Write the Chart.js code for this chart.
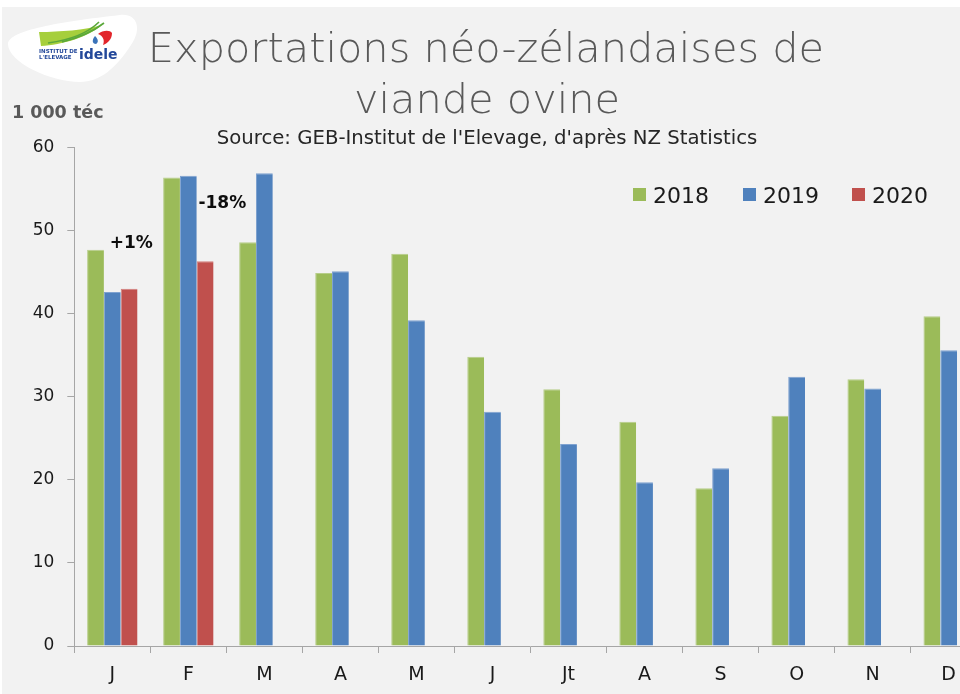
<!DOCTYPE html>
<html lang="fr">
<head>
<meta charset="utf-8">
<title>Exportations néo-zélandaises de viande ovine</title>
<script src="https://cdn.jsdelivr.net/npm/chart.js@4/dist/chart.umd.min.js"></script>
<style>
  html, body { margin: 0; padding: 0; background: #f2f2f2; overflow: hidden; }
  #frame { position: relative; width: 960px; height: 694px; overflow: hidden; background: #f2f2f2; }
  #topEdge { position: absolute; left: 0; top: 0; width: 960px; height: 7px; background: #ffffff; }
  #leftEdge { position: absolute; left: 0; top: 0; width: 2px; height: 694px; background: #ffffff; }
  #plot { position: absolute; left: 0; top: 0; width: 1000px; height: 694px; }
</style>
</head>
<body>
<div id="frame">
  <div id="topEdge"></div>
  <div id="leftEdge"></div>
  <div id="plot"><canvas id="chart"></canvas></div>
</div>
<script>
// Monthly New Zealand sheep meat exports, thousand tonnes carcass weight equivalent
const months = ['J', 'F', 'M', 'A', 'M', 'J', 'Jt', 'A', 'S', 'O', 'N', 'D'];
const seriesNames = ['2018', '2019', '2020'];
const exports2018 = [47.7, 56.4, 48.6, 44.9, 47.2, 34.8, 30.9, 27.0, 19.0, 27.7, 32.1, 39.7];
const exports2019 = [42.6, 56.6, 56.9, 45.1, 39.2, 28.2, 24.3, 19.7, 21.4, 32.4, 31.0, 35.6];
const exports2020 = [43.0, 46.3, null, null, null, null, null, null, null, null, null, null];
const yTicks = [0, 10, 20, 30, 40, 50, 60];

// Year-on-year change of 2020 against 2019, for the months available
const changeNotes = [0, 1].map(i => ({
  month: i,
  text: (exports2020[i] >= exports2019[i] ? '+' : '-') +
        Math.round(Math.abs(exports2020[i] / exports2019[i] - 1) * 100) + '%'
}));

const FONT = "'DejaVu Sans', 'Liberation Sans', sans-serif";
const colours = ['#9BBB59', '#4F81BD', '#C0504D'];
const edges = ['#b6cd88', '#7fa2d0', '#d37e7b'];

// Logo, titles, unit label, legend and change notes
const decor = {
  id: 'decor',
  afterDraw(chart) {
    const ctx = chart.ctx;
    const xs = chart.scales.x, ys = chart.scales.y;
    ctx.save();

    // logo card
    ctx.fillStyle = '#ffffff';
    ctx.beginPath();
    ctx.moveTo(8, 44);
    ctx.bezierCurveTo(9, 30, 60, 22, 120, 15);
    ctx.bezierCurveTo(138, 13, 142, 30, 131, 45);
    ctx.bezierCurveTo(116, 68, 100, 82, 80, 82);
    ctx.bezierCurveTo(50, 82, 8, 62, 8, 44);
    ctx.fill();

    // logo swoosh
    ctx.fillStyle = '#a6cf3c';
    ctx.beginPath();
    ctx.moveTo(39, 32);
    ctx.bezierCurveTo(60, 32, 85, 30, 102, 25);
    ctx.bezierCurveTo(88, 37, 62, 45, 41, 46);
    ctx.closePath();
    ctx.fill();
    ctx.strokeStyle = '#5aa83a';
    ctx.lineWidth = 1.6;
    ctx.beginPath();
    ctx.moveTo(48, 43);
    ctx.bezierCurveTo(70, 40, 88, 33, 99, 22);
    ctx.stroke();
    ctx.beginPath();
    ctx.moveTo(62, 42);
    ctx.bezierCurveTo(82, 37, 95, 30, 104, 23);
    ctx.stroke();
    ctx.fillStyle = '#e2252b';
    ctx.beginPath();
    ctx.moveTo(98, 34);
    ctx.bezierCurveTo(103, 30, 110, 30, 112, 33);
    ctx.bezierCurveTo(112, 39, 108, 43, 103, 45);
    ctx.bezierCurveTo(105, 40, 103, 36, 98, 34);
    ctx.fill();
    ctx.fillStyle = '#3b73b9';
    ctx.beginPath();
    ctx.moveTo(95, 36);
    ctx.bezierCurveTo(98, 39, 99, 42, 96, 44);
    ctx.bezierCurveTo(93, 44, 91, 41, 95, 36);
    ctx.fill();

    ctx.fillStyle = '#23489a';
    ctx.textAlign = 'left';
    ctx.textBaseline = 'alphabetic';
    ctx.font = "bold 5.5px " + FONT;
    ctx.fillText('INSTITUT DE', 39, 53);
    ctx.fillText("L'ELEVAGE", 39, 59);
    ctx.font = "bold 14px " + FONT;
    ctx.fillText('idele', 79, 59);

    // titles
    ctx.textAlign = 'center';
    ctx.fillStyle = '#595959';
    ctx.font = "200 41.5px " + FONT;
    ctx.fillText('Exportations néo-zélandaises de', 486, 62);
    ctx.fillText('viande ovine', 487, 113);
    ctx.fillStyle = '#262626';
    ctx.font = "19.7px " + FONT;
    ctx.fillText("Source: GEB-Institut de l'Elevage, d'après NZ Statistics", 487, 144);

    // unit label
    ctx.textAlign = 'left';
    ctx.fillStyle = '#595959';
    ctx.font = "bold 17.5px " + FONT;
    ctx.fillText('1 000 téc', 12, 118);

    // legend
    const legendX = [633, 743, 852];
    ctx.font = "22px " + FONT;
    chart.data.datasets.forEach((ds, i) => {
      ctx.fillStyle = ds.backgroundColor;
      ctx.fillRect(legendX[i], 188, 13, 13);
      ctx.fillStyle = '#1a1a1a';
      ctx.fillText(ds.label, legendX[i] + 20, 203);
    });

    // change notes above the 2020 bars
    ctx.fillStyle = '#0d0d0d';
    ctx.font = "bold 17px " + FONT;
    ctx.textAlign = 'center';
    ctx.textBaseline = 'middle';
    const lift = [48.4, 53.3];
    const shift = [19, 34];
    changeNotes.forEach((n, k) => {
      ctx.fillText(n.text, xs.getPixelForValue(n.month) + shift[k], ys.getPixelForValue(lift[k]));
    });
    ctx.restore();
  }
};

new Chart(document.getElementById('chart'), {
  type: 'bar',
  data: {
    labels: months,
    datasets: [exports2018, exports2019, exports2020].map((vals, i) => ({
      label: seriesNames[i],
      data: vals,
      backgroundColor: colours[i],
      borderColor: edges[i],
      borderWidth: { top: 1, left: 1, right: 0, bottom: 0 },
      categoryPercentage: 0.663,
      barPercentage: 1.0
    }))
  },
  options: {
    responsive: true,
    maintainAspectRatio: false,
    animation: false,
    layout: { padding: { top: 147.5, right: 13.3, left: 0, bottom: 0 } },
    plugins: {
      legend: { display: false },
      title: { display: false },
      tooltip: { enabled: false }
    },
    scales: {
      x: {
        type: 'category',
        offset: true,
        grid: { offset: true, drawOnChartArea: false, drawTicks: true, tickLength: 7, color: '#a6a6a6', lineWidth: 1 },
        border: { display: true, color: '#a6a6a6', width: 1 },
        ticks: { color: '#1a1a1a', font: { family: FONT, size: 19 }, padding: 11, maxRotation: 0, autoSkip: false },
        afterFit(scale) { scale.height = 48; }
      },
      y: {
        min: 0,
        max: 60,
        afterBuildTicks(scale) { scale.ticks = yTicks.map(v => ({ value: v })); },
        grid: { drawOnChartArea: false, drawTicks: true, tickLength: 7, color: '#a6a6a6', lineWidth: 1 },
        border: { display: true, color: '#a6a6a6', width: 1 },
        ticks: { color: '#1a1a1a', font: { family: FONT, size: 17 }, padding: 13 },
        afterFit(scale) { scale.width = 74.3; }
      }
    }
  },
  plugins: [decor]
});
</script>
</body>
</html>
